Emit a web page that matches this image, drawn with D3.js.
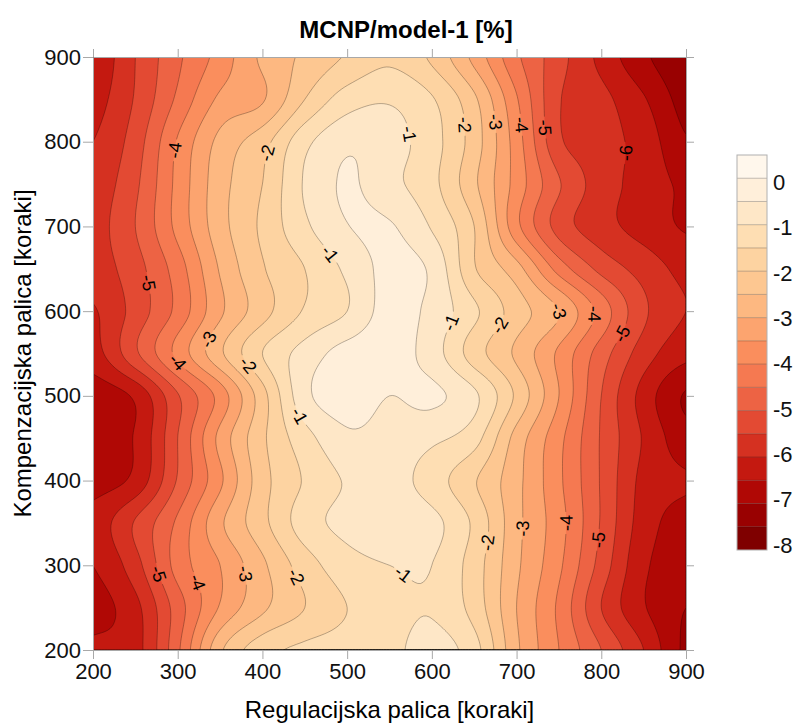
<!DOCTYPE html>
<html>
<head>
<meta charset="utf-8">
<script src="https://cdn.jsdelivr.net/npm/d3@7"></script>
<style>
  body { margin: 0; background: #fff; }
  text { font-family: "Liberation Sans", Arial, sans-serif; }
</style>
</head>
<body>
<svg id="chart" width="798" height="724"></svg>
<script>
// grid positions [koraki]
const xSteps = [200, 250, 300, 350, 400, 450, 500, 550, 600, 650, 700, 750, 800, 850, 900];
const ySteps = [900, 850, 800, 750, 700, 650, 600, 550, 500, 450, 400, 350, 300, 250, 200];

// MCNP/model-1 - 1 [%], one array per y row (top to bottom)
const row900 = [-6.4, -5.5, -4.6, -3.8, -2.9, -2.4, -1.95, -1.6, -2.1, -3.15, -4.4, -5.3, -6.15, -6.9, -7.4];
const row850 = [-6.2, -5.45, -4.4, -3.4, -3.05, -2.0, -1.25, -1.05, -1.45, -2.4, -3.95, -5.45, -5.85, -6.45, -7.2];
const row800 = [-6.0, -5.25, -3.95, -2.85, -2.2, -1.15, -0.6, -0.8, -1.3, -2.25, -3.75, -5.4, -5.8, -6.2, -6.95];
const row750 = [-5.8, -5.1, -3.85, -2.7, -2.0, -0.95, -0.45, -0.85, -1.35, -2.4, -3.7, -4.95, -5.75, -6.2, -6.6];
const row700 = [-5.7, -5.0, -3.85, -2.7, -1.9, -1.1, -0.52, -0.45, -1.05, -2.0, -3.85, -5.2, -5.8, -6.2, -6.55];
const row650 = [-5.75, -5.2, -4.25, -2.95, -2.05, -1.5, -0.9, -0.35, -0.6, -1.95, -2.8, -4.2, -5.15, -5.7, -6.15];
const row600 = [-6.05, -5.3, -4.35, -3.1, -2.2, -1.45, -1.0, -0.3, -0.65, -1.4, -2.25, -3.0, -4.2, -5.4, -6.0];
const row550 = [-6.2, -5.1, -3.85, -2.6, -1.5, -0.8, -0.3, -0.25, -0.75, -1.75, -2.6, -3.6, -4.75, -5.75, -6.35];
const row500 = [-6.8, -6.4, -5.05, -3.8, -2.2, -0.65, -0.25, -0.5, -0.4, -0.9, -2.1, -3.5, -5.0, -6.2, -7.05];
const row450 = [-6.75, -6.45, -5.0, -3.35, -2.1, -1.2, -0.6, -0.7, -0.9, -1.3, -2.7, -3.85, -5.05, -6.05, -6.8];
const row400 = [-6.7, -6.35, -4.95, -3.6, -2.2, -1.45, -0.95, -0.8, -1.25, -1.95, -2.85, -3.9, -5.05, -6.15, -6.45];
const row350 = [-6.3, -5.45, -4.4, -3.1, -2.15, -1.25, -0.85, -0.7, -0.85, -1.6, -2.85, -3.8, -5.05, -6.25, -6.7];
const row300 = [-6.5, -5.7, -4.3, -3.5, -2.6, -1.75, -1.2, -1.0, -1.0, -1.75, -2.9, -3.9, -5.2, -6.4, -6.75];
const row250 = [-6.7, -6.15, -4.75, -3.45, -2.6, -2.0, -1.5, -1.2, -1.05, -1.7, -3.0, -4.1, -5.5, -6.45, -7.0];
const row200 = [-6.4, -6.2, -4.6, -2.6, -1.7, -1.4, -1.3, -1.15, -0.8, -1.3, -2.9, -4.0, -5.0, -6.0, -7.1];

const axisTicks = [200, 300, 400, 500, 600, 700, 800, 900];
const colorbarTicks = [0, -1, -2, -3, -4, -5, -6, -7, -8];
// contour labels: [level, x, y] near where the picture shows them
const contourLabels = [
  [-4, 298, 790], [-2, 415, 784], [-1, 568, 808], [-2, 633, 820], [-3, 675, 823],
  [-4, 708, 820], [-5, 737, 817], [-6, 832, 788], [-1, 476, 666], [-5, 267, 634],
  [-3, 757, 604], [-1, 624, 584], [-2, 695, 572], [-4, 796, 595], [-5, 836, 569],
  [-4, 293, 536], [-3, 338, 564], [-2, 376, 531], [-1, 444, 477], [-2, 665, 326],
  [-3, 708, 342], [-4, 761, 351], [-5, 796, 330], [-1, 572, 297], [-5, 267, 285],
  [-4, 324, 279], [-3, 382, 291], [-2, 438, 286]
];

const grid = [row900, row850, row800, row750, row700, row650, row600, row550,
  row500, row450, row400, row350, row300, row250, row200];
const levels = d3.range(-8, 0.5, 0.5); // -8 ... 0

const marginLeft = 93, marginTop = 57, W = 593, H = 593;
const svg = d3.select('#chart');
const x = d3.scaleLinear().domain([200, 900]).range([0, W]);
const y = d3.scaleLinear().domain([200, 900]).range([H, 0]);
const color = (k) => d3.interpolateOrRd(1 - k / 16);

// smooth the coarse grid for drawing (Catmull-Rom)
const nx = xSteps.length, ny = ySteps.length, N = 211;
function cubic(p0, p1, p2, p3, t) {
  return p1 + 0.5 * t * (p2 - p0 + t * (2 * p0 - 5 * p1 + 4 * p2 - p3 + t * (3 * (p1 - p2) + p3 - p0)));
}
function at(r, c) {
  r = Math.max(0, Math.min(ny - 1, r));
  c = Math.max(0, Math.min(nx - 1, c));
  return grid[r][c];
}
function sample(u, v) {
  const i = Math.min(nx - 2, Math.floor(u)), j = Math.min(ny - 2, Math.floor(v));
  const tu = u - i, tv = v - j;
  const r = [-1, 0, 1, 2].map((d) => cubic(at(j + d, i - 1), at(j + d, i), at(j + d, i + 1), at(j + d, i + 2), tu));
  return cubic(r[0], r[1], r[2], r[3], tv);
}
const values = new Float64Array(N * N);
for (let r = 0; r < N; r++) {
  for (let c = 0; c < N; c++) {
    values[r * N + c] = sample(c / (N - 1) * (nx - 1), r / (N - 1) * (ny - 1));
  }
}

const clampIdx = (c) => Math.max(0, Math.min(N - 1, c - 0.5));
const cx = (c) => x(200 + clampIdx(c) / (N - 1) * 700);
const cy = (r) => y(900 - clampIdx(r) / (N - 1) * 700);
const path = d3.geoPath(d3.geoTransform({
  point(a, b) { this.stream.point(cx(a), cy(b)); }
}));

const g = svg.append('g').attr('transform', `translate(${marginLeft},${marginTop})`);
const defs = svg.append('defs');
defs.append('clipPath').attr('id', 'plot-clip')
  .append('rect').attr('width', W).attr('height', H);
const mask = defs.append('mask').attr('id', 'label-gap')
  .attr('maskUnits', 'userSpaceOnUse')
  .attr('x', 0).attr('y', 0).attr('width', W).attr('height', H);
mask.append('rect').attr('width', W).attr('height', H).attr('fill', '#fff');

const plot = g.append('g').attr('clip-path', 'url(#plot-clip)');
plot.append('rect').attr('width', W).attr('height', H).attr('fill', color(0));

const contours = d3.contours().size([N, N]).thresholds(levels)(values);
plot.selectAll('path.band')
  .data(contours)
  .join('path')
    .attr('class', 'band')
    .attr('d', path)
    .attr('fill', (d) => color(Math.round((d.value + 8) / 0.5)));

plot.append('g').attr('mask', 'url(#label-gap)')
  .selectAll('path.line')
  .data(contours.filter((d) => d.value > -8))
  .join('path')
    .attr('class', 'line')
    .attr('d', path)
    .attr('fill', 'none')
    .attr('stroke', '#000')
    .attr('stroke-opacity', 0.4)
    .attr('stroke-width', 0.7);

// contour labels, snapped onto their line and turned along it
const labelG = g.append('g');
contourLabels.forEach(([lev, dx, dy]) => {
  const tx = x(dx), ty = y(dy);
  const cont = d3.contours().size([N, N]).contour(values, lev);
  let best = null, bd = Infinity;
  cont.coordinates.forEach((poly) => poly.forEach((ring) => ring.forEach((p) => {
    const px = cx(p[0]), py = cy(p[1]);
    if (px <= 1 || px >= W - 1 || py <= 1 || py >= H - 1) return;
    const d = (px - tx) ** 2 + (py - ty) ** 2;
    if (d < bd) { bd = d; best = [px, py, p]; }
  })));
  if (!best) return;
  const u = clampIdx(best[2][0]) / (N - 1) * (nx - 1);
  const v = clampIdx(best[2][1]) / (N - 1) * (ny - 1);
  const h = 0.05;
  const gx = (sample(Math.min(nx - 1, u + h), v) - sample(Math.max(0, u - h), v)) / (2 * h) / (W / (nx - 1));
  const gy = (sample(u, Math.min(ny - 1, v + h)) - sample(u, Math.max(0, v - h))) / (2 * h) / (H / (ny - 1));
  let ang = Math.atan2(gx, -gy) * 180 / Math.PI;
  if (ang > 90) ang -= 180;
  if (ang <= -90) ang += 180;
  const tf = `translate(${best[0]},${best[1]}) rotate(${ang})`;
  mask.append('rect')
    .attr('transform', tf)
    .attr('x', -11).attr('y', -7).attr('width', 22).attr('height', 14)
    .attr('fill', '#000');
  labelG.append('text')
    .attr('transform', tf)
    .attr('text-anchor', 'middle')
    .attr('dy', '0.35em')
    .attr('font-size', 18)
    .attr('fill', '#000')
    .text(lev);
});

// axes on all four sides, ticks outward
const styleAxis = (sel) => {
  sel.select('.domain').attr('stroke', '#a8a8a8');
  sel.selectAll('.tick line').attr('stroke', '#a8a8a8');
  sel.selectAll('.tick text').attr('fill', '#111').attr('font-size', 22)
    .attr('font-family', '"Liberation Sans", Arial, sans-serif');
};
g.append('g').attr('transform', `translate(0,${H})`)
  .call(d3.axisBottom(x).tickValues(axisTicks).tickSize(9).tickPadding(4).tickSizeOuter(0))
  .call(styleAxis);
g.append('g')
  .call(d3.axisLeft(y).tickValues(axisTicks).tickSize(10).tickPadding(2).tickSizeOuter(0))
  .call(styleAxis);
g.append('g')
  .call(d3.axisTop(x).tickValues(axisTicks).tickSize(8).tickFormat(() => '').tickSizeOuter(0))
  .call(styleAxis);
g.append('g').attr('transform', `translate(${W},0)`)
  .call(d3.axisRight(y).tickValues(axisTicks).tickSize(8).tickFormat(() => '').tickSizeOuter(0))
  .call(styleAxis);

svg.append('text')
  .attr('x', 406).attr('y', 38)
  .attr('text-anchor', 'middle')
  .attr('font-size', 24).attr('font-weight', 'bold')
  .text('MCNP/model-1 [%]');
svg.append('text')
  .attr('x', marginLeft + W / 2).attr('y', 718)
  .attr('text-anchor', 'middle')
  .attr('font-size', 24)
  .text('Regulacijska palica [koraki]');
svg.append('text')
  .attr('transform', `translate(31,${marginTop + H / 2}) rotate(-90)`)
  .attr('text-anchor', 'middle')
  .attr('font-size', 24)
  .text('Kompenzacijska palica [koraki]');

// colorbar
const cbX = 737, cbW = 30;
const cbY = d3.scaleLinear().domain([-8, 0.5]).range([550, 155]);
const cb = svg.append('g');
cb.selectAll('rect.cb')
  .data(levels)
  .join('rect')
    .attr('class', 'cb')
    .attr('x', cbX).attr('width', cbW)
    .attr('y', (t) => cbY(t + 0.5))
    .attr('height', (t) => cbY(t) - cbY(t + 0.5))
    .attr('fill', (t, k) => color(k));
cb.selectAll('line.sep')
  .data(levels.filter((t) => t > -8))
  .join('line')
    .attr('class', 'sep')
    .attr('x1', cbX).attr('x2', cbX + cbW)
    .attr('y1', (t) => cbY(t)).attr('y2', (t) => cbY(t))
    .attr('stroke', '#000').attr('stroke-opacity', 0.35).attr('stroke-width', 0.7);
cb.append('rect')
  .attr('x', cbX).attr('y', 155).attr('width', cbW).attr('height', 395)
  .attr('fill', 'none').attr('stroke', '#b0b0b0');
cb.selectAll('text')
  .data(colorbarTicks)
  .join('text')
    .attr('x', 773)
    .attr('y', (t) => cbY(t) + 4 + t * 1.15)
    .attr('dy', '0.35em')
    .attr('font-size', 22)
    .attr('fill', '#111')
    .text((t) => t);
</script>
</body>
</html>
